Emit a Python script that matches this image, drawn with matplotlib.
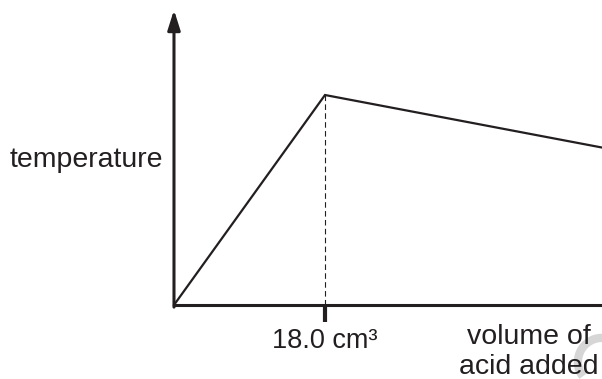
import numpy as np
import matplotlib.pyplot as plt
from matplotlib.patches import Arc

plt.rcParams['font.family'] = ['Liberation Sans', 'DejaVu Sans']

# sketch values: volume of acid (cm3) vs temperature (arbitrary units)
volume = [0, 18.0, 51.0]
temperature = [0, 10.0, 7.5]
end_point_volume = 18.0
end_point_label = "18.0 cm³"

fig = plt.figure(figsize=(6.02, 3.79), dpi=100)
ax = fig.add_axes([0, 0, 1, 1])
ax.set_xlim(-20.74, 51.02)
ax.set_ylim(-3.524, 14.524)
ax.axis('off')

ink = '#231f20'

# faint grey mark in the lower right corner, behind the text
fig.add_artist(Arc((1.0, 0.045), 0.08, 0.127, theta1=80, theta2=230,
                   transform=fig.transFigure, color='#d6d6d6', lw=6, zorder=-1))
ax.set_facecolor('none')
fig.patch.set_facecolor('white')

# axes drawn by hand, y axis with an arrow head
ax.plot([0, 51.2], [0, 0], color=ink, lw=2.2, solid_capstyle='butt', zorder=3)
ax.annotate('', xy=(0, 14.05), xytext=(0, -0.1),
            arrowprops=dict(arrowstyle='-|>,head_length=1.2,head_width=0.38',
                            color=ink, lw=2.2, shrinkA=0, shrinkB=0))

# temperature curve
ax.plot(volume, temperature, color=ink, lw=1.6, solid_joinstyle='miter', zorder=4)

# dashed drop line and tick at the end point
peak = temperature[volume.index(end_point_volume)]
ax.plot([end_point_volume, end_point_volume], [0, peak], color=ink, lw=0.8,
        dashes=(5, 3))
ax.plot([end_point_volume, end_point_volume], [0, -0.82], color=ink, lw=3,
        solid_capstyle='butt')

ax.text(end_point_volume, -2.05, end_point_label, ha='center', va='baseline',
        fontsize=19.5, color=ink)
ax.text(42.3, -1.85, 'volume of', ha='center', va='baseline', fontsize=20.5, color=ink)
ax.text(42.3, -3.3, 'acid added', ha='center', va='baseline', fontsize=20.5, color=ink)
ax.text(-1.3, 6.55, 'temperature', ha='right', va='baseline', fontsize=20.5, color=ink)

fig.savefig('out.png', dpi=100)
